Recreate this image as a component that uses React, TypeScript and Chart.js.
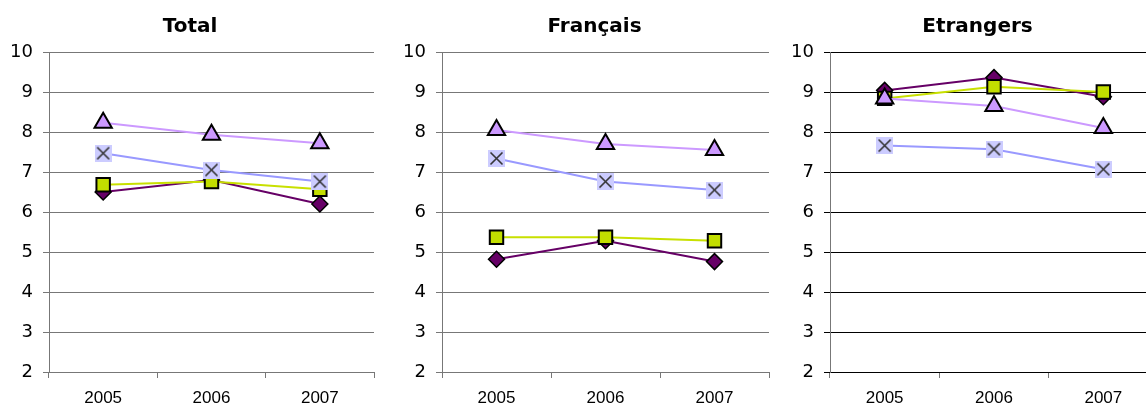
import React, { useEffect, useRef } from 'react';
import { Chart, registerables } from 'chart.js';
Chart.register(...registerables);

const categories = ['2005', '2006', '2007'];
const yMin = 2;
const yMax = 10;
const yStep = 1;
const panelTitles = ['Total', 'Français', 'Etrangers'];

const totalDiamond = [6.5, 6.8, 6.2];
const totalSquare = [6.68, 6.76, 6.57];
const totalTriangle = [8.23, 7.93, 7.72];
const totalCross = [7.47, 7.05, 6.76];

const francaisDiamond = [4.82, 5.28, 4.76];
const francaisSquare = [5.37, 5.37, 5.28];
const francaisTriangle = [8.05, 7.7, 7.55];
const francaisCross = [7.34, 6.76, 6.55];

const etrangersDiamond = [9.04, 9.36, 8.88];
const etrangersSquare = [8.84, 9.13, 9.0];
const etrangersTriangle = [8.84, 8.65, 8.1];
const etrangersCross = [7.66, 7.57, 7.07];

const panelData = [
  { cross: totalCross, triangle: totalTriangle, square: totalSquare, diamond: totalDiamond },
  { cross: francaisCross, triangle: francaisTriangle, square: francaisSquare, diamond: francaisDiamond },
  { cross: etrangersCross, triangle: etrangersTriangle, square: etrangersSquare, diamond: etrangersDiamond },
];

const panelLayout = [
  { left: 0, width: 386, axisW: 49, padRight: 5, titleX: 190, grid: '#777777' },
  { left: 385, width: 396, axisW: 57, padRight: 7, titleX: 209.5, grid: '#777777' },
  { left: 770, width: 400, axisW: 60, padRight: 4, titleX: 207.5, grid: '#000000' },
];

function makeCrossMarker(): HTMLCanvasElement {
  const c = document.createElement('canvas');
  c.width = 17;
  c.height = 17;
  const ctx = c.getContext('2d')!;
  ctx.fillStyle = '#CCCCFF';
  ctx.fillRect(0, 0, 17, 17);
  ctx.strokeStyle = '#333333';
  ctx.lineWidth = 1.6;
  ctx.beginPath();
  ctx.moveTo(2.5, 2.5);
  ctx.lineTo(14.5, 14.5);
  ctx.moveTo(14.5, 2.5);
  ctx.lineTo(2.5, 14.5);
  ctx.stroke();
  return c;
}

const titlePlugin = {
  id: 'panelTitle',
  afterDraw(chart: any, _args: any, opts: any) {
    const ctx = chart.ctx;
    ctx.save();
    ctx.font = 'bold 20px "DejaVu Sans"';
    ctx.fillStyle = '#000000';
    ctx.textAlign = 'center';
    ctx.textBaseline = 'alphabetic';
    ctx.fillText(opts.text, opts.x, opts.y);
    ctx.restore();
  },
};

function Panel({ index }: { index: number }) {
  const ref = useRef<HTMLCanvasElement | null>(null);
  const lay = panelLayout[index];
  const d = panelData[index];
  useEffect(() => {
    if (!ref.current) return;
    const cross = makeCrossMarker();
    const chart = new Chart(ref.current, {
      type: 'line',
      data: {
        labels: categories,
        datasets: [
          {
            data: d.cross,
            borderColor: '#9999FF',
            borderWidth: 2,
            pointStyle: cross as any,
            pointRadius: 8,
          },
          {
            data: d.triangle,
            borderColor: '#CC99FF',
            borderWidth: 2,
            pointStyle: 'triangle',
            pointRadius: 10,
            pointBackgroundColor: '#CC99FF',
            pointBorderColor: '#000000',
            pointBorderWidth: 2,
          },
          {
            data: d.square,
            borderColor: '#C8E000',
            borderWidth: 2,
            pointStyle: 'rect',
            pointRadius: 9.5,
            pointBackgroundColor: '#C2DE00',
            pointBorderColor: '#000000',
            pointBorderWidth: 2,
          },
          {
            data: d.diamond,
            borderColor: '#660066',
            borderWidth: 2,
            pointStyle: 'rectRot',
            pointRadius: 8,
            pointBackgroundColor: '#660066',
            pointBorderColor: '#000000',
            pointBorderWidth: 1.5,
          },
        ],
      },
      options: {
        responsive: false,
        animation: false,
        events: [],
        layout: { padding: { left: 0, right: lay.padRight, top: 52, bottom: 0 } },
        plugins: {
          legend: { display: false },
          title: { display: false },
          tooltip: { enabled: false },
          panelTitle: { text: panelTitles[index], x: lay.titleX, y: 32 },
        } as any,
        scales: {
          x: {
            type: 'category',
            offset: true,
            grid: {
              offset: true,
              drawOnChartArea: false,
              drawTicks: true,
              tickLength: 6,
              color: '#777777',
            },
            border: { display: true, color: lay.grid, width: 1 },
            ticks: {
              color: '#000000',
              font: { family: '"Liberation Sans", Arial', size: 17 },
              padding: 10,
              maxRotation: 0,
            },
            afterFit: (scale: any) => {
              scale.height = 33;
            },
          },
          y: {
            min: yMin,
            max: yMax,
            grid: { color: lay.grid, tickLength: 6, drawTicks: true },
            border: { display: true, color: '#777777', width: 1 },
            ticks: {
              stepSize: yStep,
              color: '#000000',
              font: { family: '"DejaVu Sans"', size: 18 },
              padding: 10,
            },
            afterFit: (scale: any) => {
              scale.width = lay.axisW;
            },
          },
        },
      },
      plugins: [titlePlugin],
    });
    return () => chart.destroy();
  }, [index]);
  return (
    <canvas
      ref={ref}
      width={lay.width}
      height={405}
      style={{ position: 'absolute', left: lay.left, top: 0, width: lay.width, height: 405 }}
    />
  );
}

export default function App() {
  return (
    <div
      style={{
        position: 'absolute',
        left: 0,
        top: 0,
        width: 1146,
        height: 405,
        overflow: 'hidden',
        background: '#ffffff',
      }}
    >
      <Panel index={0} />
      <Panel index={1} />
      <Panel index={2} />
    </div>
  );
}
